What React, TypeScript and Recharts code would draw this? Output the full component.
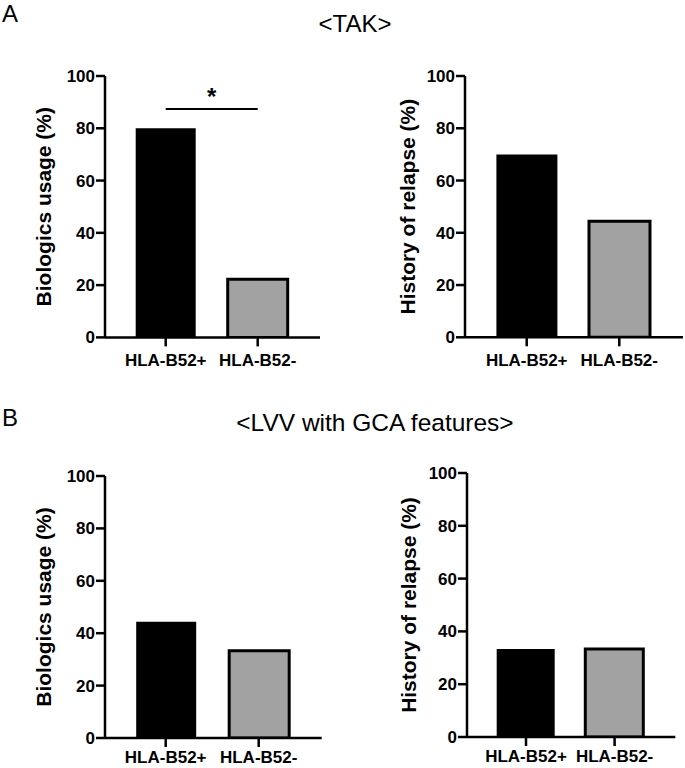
import React from "react";
import { BarChart, Bar, XAxis, YAxis, Cell, ReferenceLine } from "recharts";

const groups = ["HLA-B52+", "HLA-B52-"];
const yTicks = [0, 20, 40, 60, 80, 100];
const takBiologics = [80, 22.2];
const takRelapse = [70, 44.4];
const lvvBiologics = [44.4, 33.3];
const lvvRelapse = [33.3, 33.3];
const groupFills = ["#000000", "#a2a2a2"];
const titleA = "<TAK>";
const titleB = "<LVV with GCA features>";
const labelBiologics = "Biologics usage (%)";
const labelRelapse = "History of relapse (%)";
const sigY = 87.4;

const FONT = "'Liberation Sans', Arial, Helvetica, sans-serif";

type PanelProps = {
  values: number[];
  yLabel: string;
  x0: number;
  x1: number;
  y0: number;
  y1: number;
  padL: number;
  padR: number;
  barSize: number;
  labelDist: number;
  xTickMargin: number;
  sig?: boolean;
};

function Panel(p: PanelProps) {
  const data = groups.map((g, i) => ({ group: g, value: p.values[i] }));
  const left = p.x0 - 105;
  const top = p.y0 - 76;
  const width = p.x1 - left + 5;
  const height = p.y1 - top + 50;
  const tickStyle = { fill: "#000", fontSize: 17, fontWeight: 700, fontFamily: FONT };
  return (
    <div style={{ position: "absolute", left, top, width, height }}>
      <BarChart
        width={width}
        height={height}
        data={data}
        margin={{ top: 76, right: 5, bottom: 20, left: 45 }}
      >
        <XAxis
          dataKey="group"
          height={30}
          padding={{ left: p.padL, right: p.padR }}
          tick={tickStyle}
          tickSize={9}
          tickMargin={p.xTickMargin}
          axisLine={{ stroke: "#000", strokeWidth: 2.5 }}
          tickLine={{ stroke: "#000", strokeWidth: 2.5 }}
          interval={0}
        />
        <YAxis
          width={60}
          domain={[0, 100]}
          ticks={yTicks}
          allowDataOverflow
          tick={tickStyle}
          tickSize={9}
          tickMargin={1}
          axisLine={{ stroke: "#000", strokeWidth: 2.5 }}
          tickLine={{ stroke: "#000", strokeWidth: 2.5 }}
          label={{
            content: (props: any) => {
              const vb = props.viewBox || {};
              const cx = vb.x + vb.width - p.labelDist;
              const cy = vb.y + vb.height / 2;
              return (
                <text
                  x={cx}
                  y={cy}
                  transform={`rotate(-90, ${cx}, ${cy})`}
                  textAnchor="middle"
                  dominantBaseline="central"
                  fontSize={21}
                  fontWeight={700}
                  fontFamily={FONT}
                  fill="#000"
                >
                  {p.yLabel}
                </text>
              );
            },
          }}
        />
        <Bar dataKey="value" barSize={p.barSize} isAnimationActive={false}>
          {data.map((d, i) => (
            <Cell
              key={d.group}
              fill={groupFills[i]}
              stroke="#000"
              strokeWidth={i === 0 ? 0 : 3}
            />
          ))}
        </Bar>
        {p.sig && (
          <ReferenceLine
            segment={[
              { x: groups[0], y: sigY },
              { x: groups[1], y: sigY },
            ]}
            stroke="#000"
            strokeWidth={2}
            ifOverflow="visible"
            label={{
              content: (props: any) => {
                const vb = props.viewBox || {};
                const cx = vb.x + (vb.width || 0) / 2;
                const cy = vb.y - 3.5;
                return (
                  <text
                    x={cx}
                    y={cy}
                    textAnchor="middle"
                    fontSize={24}
                    fontWeight={700}
                    fontFamily={FONT}
                    fill="#000"
                  >
                    *
                  </text>
                );
              },
            }}
          />
        )}
      </BarChart>
    </div>
  );
}

export default function App() {
  return (
    <div
      style={{
        position: "absolute",
        left: 0,
        top: 0,
        width: 685,
        height: 768,
        background: "#fff",
        overflow: "hidden",
      }}
    >
      <svg width={685} height={768} style={{ position: "absolute", left: 0, top: 0 }}>
        <text x={2} y={22} fontSize={24} fontFamily={FONT} fill="#000">A</text>
        <text x={355} y={31.7} fontSize={24} fontFamily={FONT} fill="#000" textAnchor="middle">
          {titleA}
        </text>
        <text x={2} y={426} fontSize={24} fontFamily={FONT} fill="#000">B</text>
        <text x={375} y={431} fontSize={24.5} fontFamily={FONT} fill="#000" textAnchor="middle">
          {titleB}
        </text>
      </svg>
      <Panel values={takBiologics} yLabel={labelBiologics} x0={105} x1={320} y0={76.3} y1={337.7} padL={14.7} padR={16.3} barSize={60} labelDist={61} xTickMargin={8} sig />
      <Panel values={takRelapse} yLabel={labelRelapse} x0={465} x1={683} y0={76} y1={337.3} padL={15.4} padR={17.4} barSize={61} labelDist={57} xTickMargin={8} />
      <Panel values={lvvBiologics} yLabel={labelBiologics} x0={105} x1={321.7} y0={476.3} y1={738.3} padL={14.2} padR={16.5} barSize={60} labelDist={61} xTickMargin={4} />
      <Panel values={lvvRelapse} yLabel={labelRelapse} x0={466.7} x1={675} y0={473.3} y1={737.3} padL={14.7} padR={16.4} barSize={58} labelDist={58.4} xTickMargin={4} />
    </div>
  );
}
